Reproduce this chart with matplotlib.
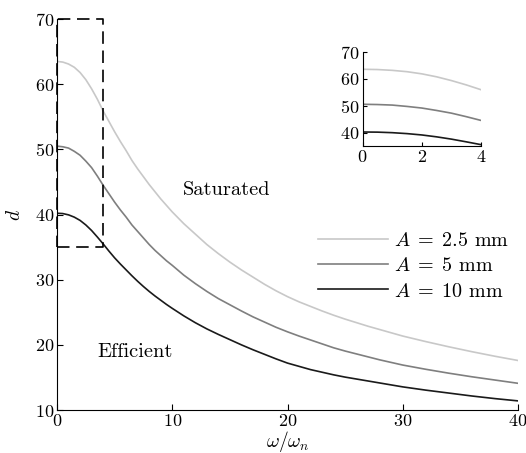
import matplotlib
matplotlib.use("Agg")
from matplotlib import pyplot as plt

plt.rcParams['font.family'] = ['cmr10', 'DejaVu Serif']
plt.rcParams['mathtext.fontset'] = 'cm'
plt.rcParams['axes.formatter.use_mathtext'] = True
plt.rcParams['font.size'] = 13

# values
w = [0, 0.5, 1, 1.5, 2, 2.5, 3, 3.5, 4, 4.5, 5, 5.5, 6, 6.5, 7, 7.5, 8, 8.5,
     9, 9.5, 10, 11, 12, 13, 14, 15, 16, 17, 18, 19, 20, 21, 22, 23, 24, 25,
     26, 27, 28, 29, 30, 32, 34, 36, 38, 40]
d_25 = [63.5, 63.4, 63.1, 62.6, 61.8, 60.7, 59.3, 57.7, 55.9, 54.3, 52.7, 51.2,
        49.8, 48.3, 47.0, 45.8, 44.6, 43.5, 42.4, 41.4, 40.4, 38.6, 37.0, 35.4,
        34.0, 32.7, 31.5, 30.4, 29.3, 28.3, 27.4, 26.6, 25.9, 25.2, 24.55, 23.95,
        23.4, 22.85, 22.35, 21.85, 21.35, 20.5, 19.7, 18.95, 18.25, 17.6]
d_5 = [50.5, 50.4, 50.2, 49.7, 49.1, 48.2, 47.2, 45.9, 44.5, 43.2, 41.9, 40.7,
       39.6, 38.4, 37.4, 36.4, 35.4, 34.5, 33.7, 32.9, 32.2, 30.7, 29.4, 28.2,
       27.1, 26.15, 25.2, 24.3, 23.5, 22.7, 22.0, 21.35, 20.75, 20.15, 19.55, 19.05,
       18.6, 18.15, 17.7, 17.3, 16.9, 16.25, 15.65, 15.1, 14.6, 14.1]
d_10 = [40.2, 40.15, 39.95, 39.6, 39.1, 38.4, 37.55, 36.55, 35.5, 34.4, 33.35, 32.4,
        31.5, 30.6, 29.75, 28.95, 28.2, 27.5, 26.85, 26.2, 25.6, 24.45, 23.4, 22.45,
        21.6, 20.8, 20.0, 19.25, 18.55, 17.85, 17.2, 16.7, 16.2, 15.8, 15.4, 15.05,
        14.75, 14.45, 14.15, 13.85, 13.55, 13.05, 12.6, 12.15, 11.75, 11.4]
labels = [r'$A\;=\;2.5$ mm', r'$A\;=\;5$ mm', r'$A\;=\;10$ mm']
colors = ['#c8c8c8', '#7f7f7f', '#1a1a1a']
series = [d_25, d_5, d_10]

fig = plt.figure(figsize=(5.26, 4.53), dpi=100)
ax = fig.add_axes([0.1084, 0.0949, 0.8764, 0.863])

for d, c, lab in zip(series, colors, labels):
    ax.plot(w, d, color=c, lw=1.2, label=lab)

# zoom box
ax.plot([0, 4, 4, 0, 0], [35, 35, 70, 70, 35], color='k', lw=1.2,
        dashes=(7.5, 4), clip_on=False, solid_joinstyle='round')

ax.text(10.9, 43.8, 'Saturated', va='center', ha='left', fontsize=14.7)
ax.text(3.5, 18.9, 'Efficient', va='center', ha='left', fontsize=14.7)

ax.set_xlim(0, 40)
ax.set_ylim(10, 70)
ax.set_xticks([0, 10, 20, 30, 40])
ax.set_yticks([10, 20, 30, 40, 50, 60, 70])
ax.set_xlabel(r'$\omega/\omega_n$', labelpad=0, fontsize=14)
ax.set_ylabel(r'$d$', labelpad=8, fontsize=14)
ax.spines['top'].set_visible(False)
ax.spines['right'].set_visible(False)
ax.tick_params(direction='in', length=4, width=0.8, pad=2)

ax.legend(loc='upper left', bbox_to_anchor=(0.566, 0.455), frameon=False,
          fontsize=14.5, handlelength=3.5, handletextpad=0.3, labelspacing=0.35,
          borderaxespad=0, borderpad=0)

# inset
ins = fig.add_axes([0.6895, 0.6777, 0.225, 0.208])
n = w.index(4) + 1
for d, c in zip(series, colors):
    ins.plot(w[:n], d[:n], color=c, lw=1.2)
ins.set_xlim(0, 4)
ins.set_ylim(35, 70)
ins.set_xticks([0, 2, 4])
ins.set_yticks([40, 50, 60, 70])
ins.spines['top'].set_visible(False)
ins.spines['right'].set_visible(False)
ins.tick_params(direction='in', length=3, width=0.8, pad=2)

fig.savefig('out.png', dpi=100)
